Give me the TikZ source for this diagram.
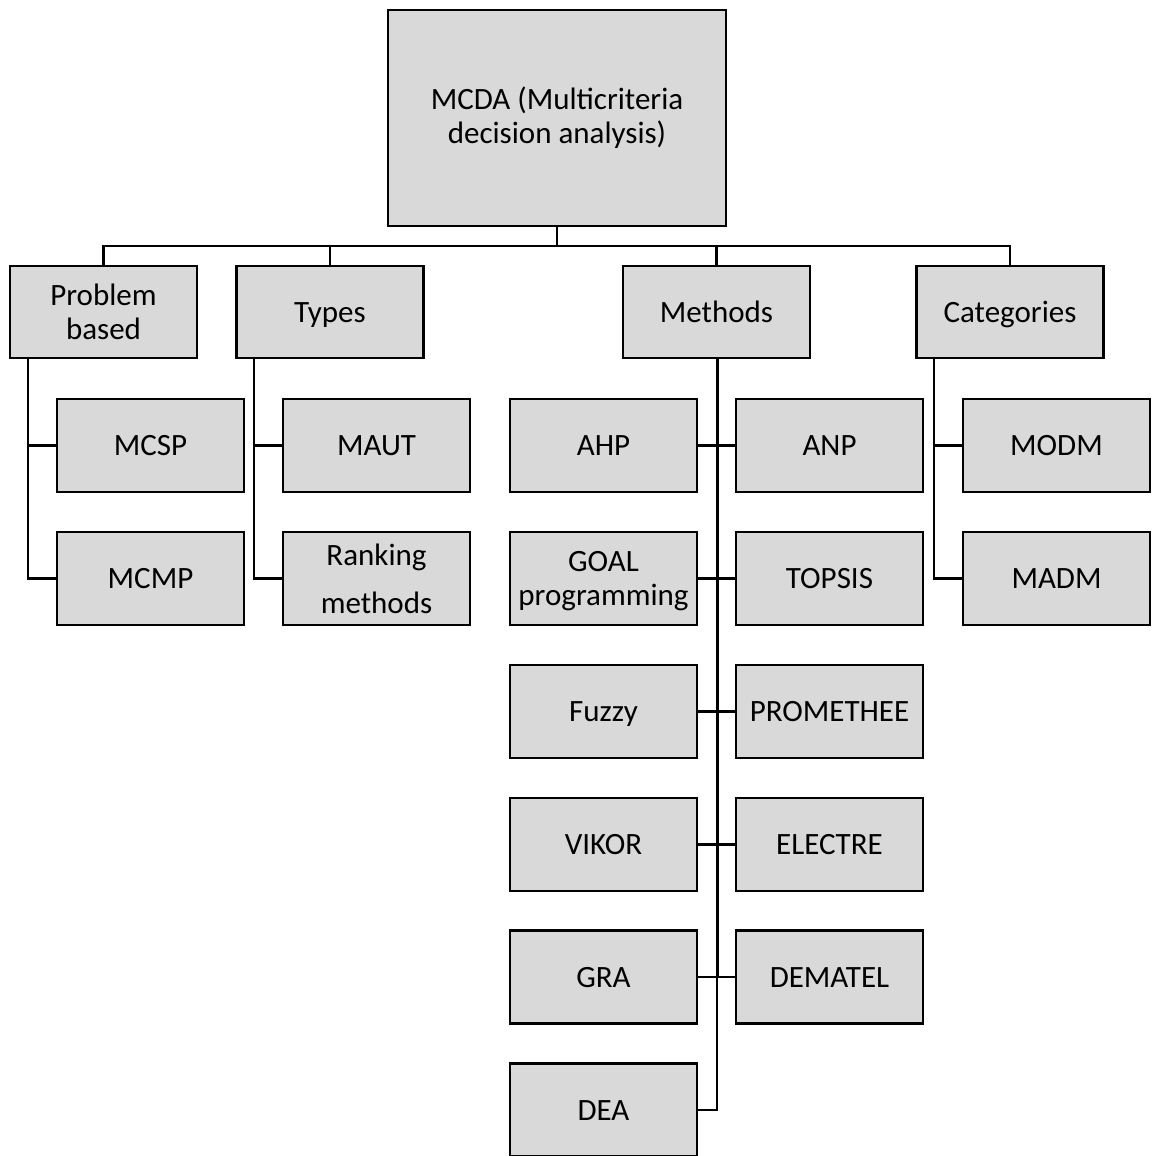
\documentclass[tikz,border=0pt]{standalone}
\usepackage{fontspec}
\setmainfont{Carlito}
\definecolor{boxgray}{HTML}{D9D9D9}
\tikzset{
  box/.style={draw=black, line width=2.5pt, fill=boxgray, minimum width=187pt,
    minimum height=93pt, inner sep=0pt, align=center,
    font=\fontsize{31}{34}\selectfont},
  oneline/.style={text height=20pt, text depth=0pt},
  link/.style={line width=2.3pt, line join=miter},
}
\begin{document}
\begin{tikzpicture}[x=1pt, y=-1pt]
  \useasboundingbox (0,0) rectangle (1151,1156);
  \clip (0,0) rectangle (1151,1156);

  % root
  \node[box, minimum width=338pt, minimum height=216pt] (root) at (557,118)
    {MCDA (Multicriteria\\decision analysis)};

  % first level
  \node[box, minimum height=92pt] (pb)      at (103.5,312) {Problem\\based};
  \node[box, oneline, minimum height=92pt] (types)   at (330,312)   {Types};
  \node[box, oneline, minimum height=92pt] (methods) at (716.5,312) {Methods};
  \node[box, oneline, minimum height=92pt] (cat)     at (1010,312)  {Categories};

  % problem based children
  \node[box, oneline] (mcsp) at (150.5,445.5) {MCSP};
  \node[box, oneline] (mcmp) at (150.5,578.5) {MCMP};

  % types children
  \node[box, oneline] (maut) at (376.5,445.5) {MAUT};
  \node[box, font=\fontsize{31}{48}\selectfont] (rank) at (376.5,578.5) {Ranking\\methods};

  % methods children, left column
  \node[box, oneline] (ahp)   at (603.5,445.5) {AHP};
  \node[box] (goal)  at (603.5,578.5) {GOAL\\\smash{programming}};
  \node[box, oneline] (fuzzy) at (603.5,711.5) {Fuzzy};
  \node[box, oneline] (vikor) at (603.5,844.5) {VIKOR};
  \node[box, oneline] (gra)   at (603.5,977)   {GRA};
  \node[box, oneline] (dea)   at (603.5,1110)  {DEA};

  % methods children, right column
  \node[box, oneline] (anp)     at (829.5,445.5) {ANP};
  \node[box, oneline] (topsis)  at (829.5,578.5) {TOPSIS};
  \node[box, oneline] (prom)    at (829.5,711.5) {PROMETHEE};
  \node[box, oneline] (electre) at (829.5,844.5) {ELECTRE};
  \node[box, oneline] (dematel) at (829.5,977)   {DEMATEL};

  % categories children
  \node[box, oneline] (modm) at (1056.5,445.5) {MODM};
  \node[box, oneline] (madm) at (1056.5,578.5) {MADM};

  % bus under the root
  \coordinate (bus) at (557,246);
  \draw[link] (root.south) -- (bus);
  \draw[link] (pb.north) -- (pb.north |- bus) -- (cat.north |- bus) -- (cat.north);
  \draw[link] (types.north) -- (types.north |- bus);
  \draw[link] (methods.north) -- (methods.north |- bus);

  % side spines
  \draw[link] ([xshift=19pt]pb.south west) |- (mcmp.west);
  \draw[link] ([xshift=19pt]pb.south west |- mcsp.west) -- (mcsp.west);
  \draw[link] ([xshift=19pt]types.south west) |- (rank.west);
  \draw[link] ([xshift=19pt]types.south west |- maut.west) -- (maut.west);
  \draw[link] ([xshift=19pt]cat.south west) |- (madm.west);
  \draw[link] ([xshift=19pt]cat.south west |- modm.west) -- (modm.west);

  % methods spine
  \foreach \n in {ahp,goal,fuzzy,vikor,gra,dea}
    \draw[link] ([xshift=0.5pt]methods.south) |- (\n.east);
  \foreach \n in {anp,topsis,prom,electre,dematel}
    \draw[link] ([xshift=1.5pt]methods.south) |- (\n.west);
\end{tikzpicture}
\end{document}
